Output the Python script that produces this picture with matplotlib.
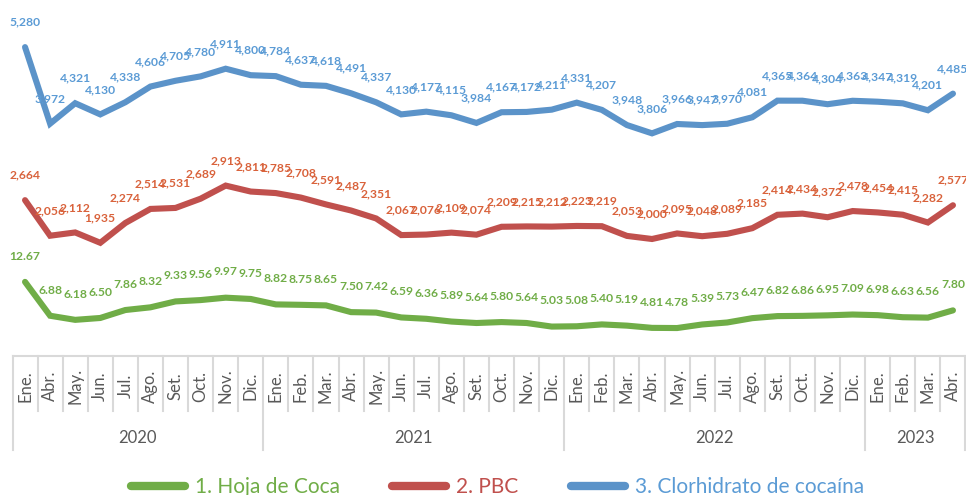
import matplotlib
matplotlib.use("Agg")
import matplotlib.pyplot as plt
from matplotlib.lines import Line2D

plt.rcParams['font.family'] = ['Lato', 'DejaVu Sans']

# -----------------------------
# data
# -----------------------------
months = ['Ene.', 'Abr.', 'May.', 'Jun.', 'Jul.', 'Ago.', 'Set.', 'Oct.', 'Nov.', 'Dic.',
          'Ene.', 'Feb.', 'Mar.', 'Abr.', 'May.', 'Jun.', 'Jul.', 'Ago.', 'Set.', 'Oct.', 'Nov.', 'Dic.',
          'Ene.', 'Feb.', 'Mar.', 'Abr.', 'May.', 'Jun.', 'Jul.', 'Ago.', 'Set.', 'Oct.', 'Nov.', 'Dic.',
          'Ene.', 'Feb.', 'Mar.', 'Abr.']
years = ['2020', '2021', '2022', '2023']
year_counts = [10, 12, 12, 4]

coca = [12.67, 6.88, 6.18, 6.50, 7.86, 8.32, 9.33, 9.56, 9.97, 9.75,
        8.82, 8.75, 8.65, 7.50, 7.42, 6.59, 6.36, 5.89, 5.64, 5.80, 5.64, 5.03,
        5.08, 5.40, 5.19, 4.81, 4.78, 5.39, 5.73, 6.47, 6.82, 6.86, 6.95, 7.09,
        6.98, 6.63, 6.56, 7.80]
pbc = [2664, 2056, 2112, 1935, 2274, 2514, 2531, 2689, 2913, 2811,
       2785, 2708, 2591, 2487, 2351, 2067, 2076, 2109, 2074, 2209, 2215, 2212,
       2223, 2219, 2053, 2000, 2095, 2048, 2089, 2185, 2414, 2434, 2372, 2478,
       2454, 2415, 2282, 2577]
clorh = [5280, 3972, 4321, 4130, 4338, 4606, 4705, 4780, 4911, 4800,
         4784, 4637, 4618, 4491, 4337, 4130, 4177, 4115, 3984, 4167, 4172, 4211,
         4331, 4207, 3948, 3806, 3966, 3947, 3970, 4081, 4365, 4364, 4304, 4363,
         4347, 4319, 4201, 4485]

# -----------------------------
# styles
# -----------------------------
c_green, c_red, c_blue = '#70AD47', '#C0504D', '#5B93C9'
lab_green, lab_red, lab_blue = '#70AD47', '#D9623B', '#5B9BD5'
grey = '#D9D9D9'
txt = '#595959'

W, H = 966, 495
fig = plt.figure(figsize=(W / 100, H / 100), dpi=100)
ax_l, ax_r, ax_b, ax_t = 12.5, 965.5, 356, 5
ax = fig.add_axes([ax_l / W, (H - ax_b) / H, (ax_r - ax_l) / W, (ax_b - ax_t) / H])
ax2 = ax.twinx()

x = list(range(len(months)))
lw = 4.4
l3, = ax.plot(x, clorh, color=c_blue, lw=lw, solid_joinstyle='miter', solid_capstyle='round')
l2, = ax.plot(x, pbc, color=c_red, lw=lw, solid_joinstyle='miter', solid_capstyle='round')
l1, = ax2.plot(x, coca, color=c_green, lw=lw, solid_joinstyle='miter', solid_capstyle='round')

ax.set_ylim(0, 6000)
ax2.set_ylim(0, 60)
ax.set_xlim(-0.5, len(months) - 0.5)

# data labels
fs_lab = 8.7
for xi, v in zip(x, clorh):
    ax.annotate(f'{v:,}', (xi, v), xytext=(0, 18), textcoords='offset points',
                ha='center', va='center', fontsize=fs_lab, fontweight='bold', color=lab_blue)
for xi, v in zip(x, pbc):
    ax.annotate(f'{v:,}', (xi, v), xytext=(0, 18), textcoords='offset points',
                ha='center', va='center', fontsize=fs_lab, fontweight='bold', color=lab_red)
for xi, v in zip(x, coca):
    ax2.annotate(f'{v:.2f}', (xi, v), xytext=(0, 18.5), textcoords='offset points',
                 ha='center', va='center', fontsize=fs_lab, fontweight='bold', color=lab_green)

for a in (ax, ax2):
    for s in ['top', 'left', 'right']:
        a.spines[s].set_visible(False)
    a.set_yticks([])
    a.set_xticks([])
ax2.spines['bottom'].set_visible(False)
ax.spines['bottom'].set_color(grey)
ax.spines['bottom'].set_linewidth(1.5)

# multi level category axis
h_px = ax_b - ax_t
def fy(py):
    return (ax_b - py) / h_px

tr = ax.get_xaxis_transform()
for xi, m in zip(x, months):
    ax.text(xi, fy(386), m, transform=tr, rotation=90, ha='center', va='center',
            fontsize=12, color=txt, clip_on=False)

bounds = [-0.5]
for n in year_counts:
    bounds.append(bounds[-1] + n)
for i in range(len(months) + 1):
    b = i - 0.5
    bottom = fy(450) if b in bounds else fy(411)
    ax.plot([b, b], [0, bottom], transform=tr, color=grey, lw=1.5, clip_on=False)
for yr, b0, b1 in zip(years, bounds[:-1], bounds[1:]):
    ax.text((b0 + b1) / 2, fy(438), yr, transform=tr, ha='center', va='center',
            fontsize=12, color=txt, clip_on=False)

# legend
handles = [Line2D([], [], color=c, lw=6, solid_capstyle='round') for c in (c_green, c_red, c_blue)]
leg = fig.legend(handles, ['1. Hoja de Coca', '2. PBC', '3. Clorhidrato de cocaína'],
                 loc='center', bbox_to_anchor=(0.515, (H - 487) / H), ncol=3, frameon=False,
                 fontsize=15, handlelength=2.6, handletextpad=0.47, columnspacing=2.5)
for t, c in zip(leg.get_texts(), (c_green, c_red, lab_blue)):
    t.set_color(c)

fig.savefig('out.png', dpi=100)
